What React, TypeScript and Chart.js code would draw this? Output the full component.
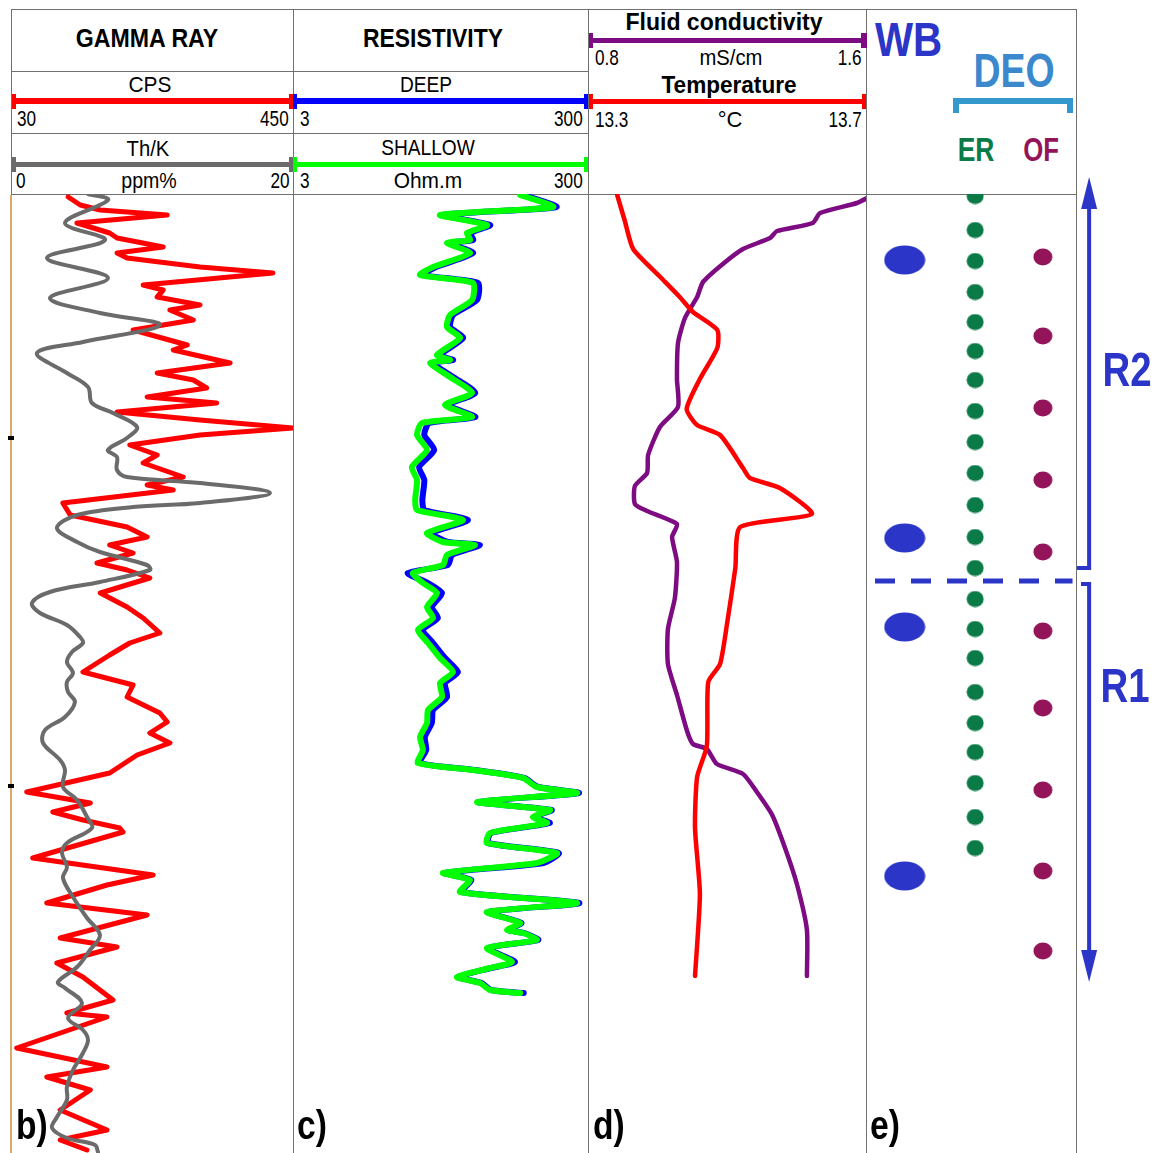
import React, { useEffect, useRef } from 'react';
import { Chart, registerables } from 'chart.js';

Chart.register(...registerables);

const FONT = '"Liberation Sans", Arial, Helvetica, sans-serif';
const GRID = '#707070';
const BLUE = '#2B35C8';

// ---- depth axis (relative depth, top of logged interval = 0) ----
const DEPTH_MIN = 0;
const DEPTH_MAX = 95.9;

// ---- b) gamma ray (CPS) ----
const grDepth = [0.3, 1.1, 1.6, 2.1, 2.9, 3.9, 4.4, 5.3, 5.9, 6.4, 7.3, 7.9, 9.1, 9.6, 10.3, 11.1, 11.6, 12.6, 13.1, 13.6, 15.1, 15.6, 16.9, 17.9, 18.6, 19.4, 20.3, 20.9, 21.8, 22.6, 23.4, 24.1, 25.1, 26.1, 26.9, 28.3, 29.1, 29.6, 30.9, 32.1, 33.3, 34.3, 35.1, 35.9, 36.9, 37.6, 38.4, 39.9, 41.3, 42.4, 43.9, 44.9, 46.1, 47.8, 49.1, 50.3, 51.9, 52.8, 53.9, 54.9, 56.1, 57.9, 59.8, 60.9, 61.8, 62.6, 63.4, 63.8, 66.4, 68.1, 69.1, 70.9, 72.1, 74.4, 75.3, 76.9, 78.3, 80.6, 81.9, 82.3, 85.4, 87.3, 88.3, 89.6, 91.6, 93.6, 94.6, 95.6];
const grCps = [114, 132, 162, 262, 127, 176, 187, 256, 187, 202, 311, 420, 226, 256, 247, 311, 266, 301, 256, 211, 292, 271, 356, 247, 301, 321, 232, 336, 187, 311, 450, 311, 206, 247, 226, 286, 232, 271, 106, 117, 202, 232, 176, 211, 157, 202, 236, 162, 202, 226, 251, 206, 176, 136, 211, 202, 251, 262, 236, 266, 217, 176, 52, 147, 91, 136, 191, 196, 61, 241, 172, 82, 232, 102, 187, 97, 136, 181, 112, 172, 37, 172, 82, 147, 102, 172, 102, 142];

// ---- b) Th/K ratio (ppm%) ----
const thkDepth = [0, 0.6, 2.9, 4.6, 6.4, 8.4, 10.4, 11.9, 13.1, 14.8, 15.9, 17.9, 19.3, 20.9, 21.9, 23.3, 24.4, 25.6, 26.3, 27.6, 28.3, 28.9, 29.9, 30.9, 31.3, 32.1, 33.4, 34.8, 35.8, 37.1, 37.6, 38.8, 39.8, 40.9, 41.9, 43.1, 44.3, 44.9, 45.8, 46.8, 47.9, 48.8, 49.8, 50.8, 52.3, 53.6, 54.9, 56.6, 57.6, 59.3, 60.6, 62.3, 63.4, 64.9, 65.9, 67.3, 68.4, 70.3, 72.4, 74.1, 75.6, 77.3, 78.8, 79.4, 80.9, 82.4, 83.6, 84.6, 85.9, 87.6, 89.3, 90.6, 92.3, 93.4, 94.4, 95.1, 95.8];
const thkVal = [5.41, 6.83, 3.77, 6.62, 2.49, 6.83, 2.70, 6.26, 10.53, 5.05, 1.78, 3.91, 5.41, 5.69, 7.19, 8.90, 8.18, 6.83, 7.47, 7.47, 8.18, 13.38, 18.36, 13.38, 8.61, 4.63, 3.20, 4.63, 6.26, 9.61, 9.82, 6.26, 2.70, 1.42, 1.99, 3.91, 4.84, 5.05, 4.27, 3.91, 4.34, 3.91, 3.99, 4.48, 3.77, 2.35, 2.21, 3.42, 3.77, 3.63, 4.63, 5.34, 5.69, 3.91, 3.56, 3.91, 3.63, 4.34, 5.34, 6.26, 5.55, 4.63, 3.27, 3.77, 4.98, 3.99, 5.05, 5.41, 5.05, 4.34, 3.91, 3.91, 3.20, 2.85, 3.91, 5.91, 6.12];

// ---- c) resistivity, deep and shallow (Ohm.m) ----
const resDepth = [0.1, 1.3, 2.1, 3.1, 3.9, 4.6, 4.9, 5.9, 7.3, 8.1, 8.9, 10.6, 12.1, 13.3, 14.4, 16.1, 16.6, 16.9, 18.3, 19.9, 21.1, 22.3, 22.9, 24.1, 25.6, 27.3, 28.6, 30.6, 31.6, 32.6, 33.9, 34.8, 35.1, 36.1, 37.1, 37.9, 38.9, 39.9, 41.3, 42.4, 43.6, 44.9, 46.4, 47.8, 48.9, 50.3, 51.6, 52.9, 54.3, 55.6, 56.9, 57.6, 58.4, 59.3, 59.9, 60.8, 61.6, 62.3, 62.9, 63.9, 64.9, 65.9, 66.9, 67.9, 68.6, 69.8, 70.9, 71.8, 72.9, 73.6, 73.9, 74.6, 75.4, 76.8, 77.4, 78.3, 78.9, 79.6, 79.9];
const resShallow = [104, 174, 29.8, 62, 45.3, 47.5, 33.2, 47.5, 26.7, 21.8, 49.8, 49.1, 34.8, 33.2, 40.7, 28.4, 34.8, 25.5, 34.8, 49.1, 32.2, 49.1, 22.5, 20.8, 24.3, 19.2, 20.8, 20.2, 20.8, 42.6, 24.3, 31.2, 51.4, 33.2, 31.2, 19.5, 22.8, 28.4, 24.3, 26.7, 21.1, 24.7, 29.8, 36.5, 29.8, 30.7, 24.7, 24.3, 21.8, 22.8, 21.1, 49.8, 109, 135, 253, 53.1, 166, 127, 158, 65, 62, 185, 135, 31.2, 47.5, 40.7, 253, 62, 104, 84.7, 109, 135, 62, 91.6, 65, 38.8, 55.6, 65, 104];
const resDeep = [109, 183, 31.3, 65.1, 47.6, 49.9, 34.9, 49.9, 28, 22.9, 53.8, 53, 36.5, 34.9, 42.7, 29.8, 36.5, 26.8, 36.5, 51.6, 33.8, 51.6, 25.2, 23.3, 27.2, 21.5, 23.3, 22.6, 23.3, 46, 26.2, 33.7, 55.5, 35.9, 33.7, 18, 24.6, 30.7, 26.2, 28.8, 22.8, 26.7, 32.2, 39.4, 32.2, 33.2, 26.7, 26.2, 23.5, 24, 21.8, 51, 111, 138, 260, 54, 170, 130, 165, 66, 63, 190, 150, 32, 48.5, 41.5, 262, 63, 106, 86, 111, 138, 63, 96, 66, 39.5, 57, 66, 110];

// ---- d) fluid conductivity (mS/cm) ----
const condDepth = [0.1, 0.9, 1.9, 2.9, 3.7, 4.4, 5.5, 7.0, 8.8, 10.3, 12.4, 14.9, 18.5, 21.3, 23.3, 26.1, 27.9, 29.2, 31.0, 31.7, 33.0, 34.3, 36.8, 40.4, 43.5, 47.0, 50.1, 53.7, 55.0, 55.5, 57.0, 58.0, 59.8, 62.1, 65.4, 69.0, 73.6, 78.2];
const condVal = [1.62, 1.574, 1.468, 1.447, 1.344, 1.324, 1.246, 1.188, 1.131, 1.114, 1.079, 1.059, 1.056, 1.059, 1.007, 0.973, 0.970, 0.935, 0.935, 0.970, 1.056, 1.042, 1.056, 1.050, 1.030, 1.030, 1.056, 1.085, 1.102, 1.142, 1.171, 1.246, 1.286, 1.330, 1.367, 1.401, 1.430, 1.430];

// ---- d) temperature (°C) ----
const tempDepth = [0.1, 2.7, 5.5, 8.3, 10.3, 11.8, 13.6, 15.4, 18.5, 21.5, 23.1, 24.1, 27.4, 28.4, 29.4, 32.0, 33.3, 37.4, 43.0, 47.0, 48.8, 55.2, 58.3, 63.4, 70.0, 78.2];
const tempVal = [13.342, 13.353, 13.365, 13.404, 13.432, 13.451, 13.486, 13.486, 13.461, 13.442, 13.457, 13.490, 13.523, 13.533, 13.576, 13.622, 13.519, 13.512, 13.500, 13.490, 13.473, 13.471, 13.457, 13.454, 13.461, 13.454];

// ---- e) observations: WB, DEO (ER / OF) ----
const wbDepth = [6.6, 34.4, 43.3, 68.2];
const erDepth = [0.2, 3.6, 6.7, 9.8, 12.8, 15.7, 18.6, 21.7, 24.8, 27.9, 31.1, 34.3, 37.4, 40.5, 43.5, 46.4, 49.8, 52.9, 55.8, 58.9, 62.3, 65.4];
const ofDepth = [6.3, 14.2, 21.4, 28.6, 35.8, 43.7, 51.4, 59.6, 67.7, 75.7];
const columnX = { WB: 1, ER: 2.02, OF: 3 };
const boundaryDepth = 38.7;
const r2Zone = [-1.7, 37.4];
const r1Zone = [39.0, 78.8];
const ARROW_X = 3.67;

const pts = (ys: number[], xs: number[]) => xs.map((x, i) => ({ x, y: ys[i] }));
const atX = (x: number, ys: number[]) => ys.map((y) => ({ x, y }));

const depthAxis = { type: 'linear', min: DEPTH_MIN, max: DEPTH_MAX, reverse: true, display: false };

function options(scales: any, padding: any = 0) {
  return {
    responsive: false,
    maintainAspectRatio: false,
    animation: false,
    events: [],
    layout: { padding, autoPadding: false },
    plugins: { legend: { display: false }, tooltip: { enabled: false } },
    scales,
  };
}

function curve(label: string, data: any[], color: string, width: number, xAxisID: string, extra: any = {}) {
  return {
    label,
    data,
    xAxisID,
    yAxisID: 'y',
    showLine: true,
    borderColor: color,
    backgroundColor: color,
    borderWidth: width,
    pointRadius: 0,
    borderJoinStyle: 'round',
    borderCapStyle: 'round',
    tension: 0,
    ...extra,
  };
}

function ellipseSprite(w: number, h: number, color: string) {
  const c = document.createElement('canvas');
  c.width = w;
  c.height = h;
  const g = c.getContext('2d')!;
  g.fillStyle = color;
  g.beginPath();
  g.ellipse(w / 2, h / 2, w / 2 - 0.5, h / 2 - 0.5, 0, 0, Math.PI * 2);
  g.fill();
  return c;
}

// Zone arrows R2 / R1 to the right of the observation track
const zoneArrows = {
  id: 'zoneArrows',
  afterDatasetsDraw(chart: any) {
    const { ctx, chartArea } = chart;
    const xs = chart.scales.x;
    const ys = chart.scales.y;
    const ax = xs.getPixelForValue(ARROW_X);
    const left = chartArea.right + 1;
    const head = 32;
    const half = 8;
    ctx.save();
    ctx.strokeStyle = BLUE;
    ctx.fillStyle = BLUE;
    ctx.lineWidth = 4;
    const t2 = ys.getPixelForValue(r2Zone[0]);
    const b2 = ys.getPixelForValue(r2Zone[1]);
    ctx.beginPath();
    ctx.moveTo(ax, t2 + head - 2);
    ctx.lineTo(ax, b2);
    ctx.lineTo(left, b2);
    ctx.stroke();
    ctx.beginPath();
    ctx.moveTo(ax, t2);
    ctx.lineTo(ax - half, t2 + head);
    ctx.lineTo(ax + half, t2 + head);
    ctx.closePath();
    ctx.fill();
    const t1 = ys.getPixelForValue(r1Zone[0]);
    const b1 = ys.getPixelForValue(r1Zone[1]);
    ctx.beginPath();
    ctx.moveTo(left + 4, t1);
    ctx.lineTo(ax, t1);
    ctx.lineTo(ax, b1 - head + 2);
    ctx.stroke();
    ctx.beginPath();
    ctx.moveTo(ax, b1);
    ctx.lineTo(ax - half, b1 - head);
    ctx.lineTo(ax + half, b1 - head);
    ctx.closePath();
    ctx.fill();
    ctx.restore();
  },
};

type Align = 'l' | 'c' | 'r';
function Txt(props: { t: string; x: number; y: number; fs: number; a?: Align; b?: boolean; sx?: number; c?: string }) {
  const { t, x, y, fs, a = 'l', b = false, sx = 1, c = '#000' } = props;
  const st: any = {
    position: 'absolute',
    top: y - fs / 2,
    fontSize: fs,
    lineHeight: fs + 'px',
    fontWeight: b ? 'bold' : 'normal',
    color: c,
    whiteSpace: 'nowrap',
    fontFamily: FONT,
  };
  if (a === 'l') {
    st.left = x;
    st.transformOrigin = 'left center';
    st.transform = `scaleX(${sx})`;
  } else if (a === 'r') {
    st.right = 1154 - x;
    st.transformOrigin = 'right center';
    st.transform = `scaleX(${sx})`;
  } else {
    st.left = x;
    st.transformOrigin = 'center center';
    st.transform = `translateX(-50%) scaleX(${sx})`;
  }
  return <div style={st}>{t}</div>;
}

function Rect(props: { x: number; y: number; w: number; h: number; c: string }) {
  return <div style={{ position: 'absolute', left: props.x, top: props.y, width: props.w, height: props.h, background: props.c }} />;
}

function ScaleBar(props: { x1: number; x2: number; y: number; c: string; th?: number; capR?: number }) {
  const { x1, x2, y, c, th = 5, capR = 4 } = props;
  return (
    <>
      <Rect x={x1} y={y - th / 2} w={x2 - x1} h={th} c={c} />
      <Rect x={x1} y={y - 7} w={4} h={15} c={c} />
      <Rect x={x2 - capR} y={y - 7} w={capR} h={15} c={c} />
    </>
  );
}

export default function App() {
  const gRef = useRef<HTMLCanvasElement>(null);
  const rRef = useRef<HTMLCanvasElement>(null);
  const fRef = useRef<HTMLCanvasElement>(null);
  const eRef = useRef<HTMLCanvasElement>(null);

  useEffect(() => {
    const charts: Chart[] = [];

    charts.push(
      new Chart(gRef.current!, {
        type: 'scatter',
        data: {
          datasets: [
            curve('Th/K', pts(thkDepth, thkVal), '#6B6B6B', 4, 'xThk', { tension: 0.35 }),
            curve('Gamma ray', pts(grDepth, grCps), '#FF0000', 5, 'xGr'),
          ],
        },
        options: options({
          xGr: { type: 'linear', min: 30, max: 450, display: false },
          xThk: { type: 'linear', min: 0, max: 20, display: false },
          y: depthAxis,
        }) as any,
      })
    );

    charts.push(
      new Chart(rRef.current!, {
        type: 'scatter',
        data: {
          datasets: [
            curve('Shallow', pts(resDepth, resShallow), '#00FF00', 6, 'xRes', { tension: 0.2 }),
            curve('Deep', pts(resDepth, resDeep), '#0000FF', 6, 'xRes', { tension: 0.2 }),
          ],
        },
        options: options({
          xRes: { type: 'logarithmic', min: 3, max: 300, display: false },
          y: depthAxis,
        }) as any,
      })
    );

    charts.push(
      new Chart(fRef.current!, {
        type: 'scatter',
        data: {
          datasets: [
            curve('Temperature', pts(tempDepth, tempVal), '#FF0000', 4.5, 'xTemp', { tension: 0.2 }),
            curve('Fluid conductivity', pts(condDepth, condVal), '#7D0B82', 4.5, 'xCond', { tension: 0.2 }),
          ],
        },
        options: options({
          xCond: { type: 'linear', min: 0.8, max: 1.6, display: false },
          xTemp: { type: 'linear', min: 13.3, max: 13.7, display: false },
          y: depthAxis,
        }) as any,
      })
    );

    const dot = (data: any[], sprite: HTMLCanvasElement, label: string) => ({
      label,
      data,
      xAxisID: 'x',
      yAxisID: 'y',
      pointStyle: sprite,
      pointRadius: 10,
      showLine: false,
    });

    charts.push(
      new Chart(eRef.current!, {
        type: 'scatter',
        data: {
          datasets: [
            {
              label: 'R2/R1 boundary',
              data: [
                { x: 0.57, y: boundaryDepth },
                { x: 3.43, y: boundaryDepth },
              ],
              xAxisID: 'x',
              yAxisID: 'y',
              showLine: true,
              borderColor: BLUE,
              borderWidth: 5,
              borderDash: [20, 16],
              pointRadius: 0,
            },
            dot(atX(columnX.WB, wbDepth), ellipseSprite(42, 30, BLUE), 'WB'),
            dot(atX(columnX.ER, erDepth), ellipseSprite(18, 17, '#0A7A47'), 'ER'),
            dot(atX(columnX.OF, ofDepth), ellipseSprite(20, 18, '#931459'), 'OF'),
          ],
        },
        options: options(
          {
            x: { type: 'linear', min: 0.44, max: 3.48, display: false },
            y: depthAxis,
          },
          { top: 24, right: 78, left: 0, bottom: 0 }
        ) as any,
        plugins: [zoneArrows],
      })
    );

    return () => charts.forEach((c) => c.destroy());
  }, []);

  const num = 0.78;
  return (
    <div style={{ position: 'absolute', left: 0, top: 0, width: 1154, height: 1153, background: '#fff', overflow: 'hidden', fontFamily: FONT }}>
      {/* frame and track grid */}
      <Rect x={11} y={9} w={1066} h={1} c={GRID} />
      <Rect x={11} y={9} w={1} h={185} c={GRID} />
      <Rect x={293} y={9} w={1} h={1144} c={GRID} />
      <Rect x={588} y={9} w={1} h={1144} c={GRID} />
      <Rect x={866} y={9} w={1} h={1144} c={GRID} />
      <Rect x={1076} y={9} w={1} h={1144} c={GRID} />
      <Rect x={11} y={71} w={577} h={1} c={GRID} />
      <Rect x={11} y={133} w={577} h={1} c={GRID} />
      <Rect x={11} y={194} w={1066} h={1} c={GRID} />
      <Rect x={10} y={195} w={2} h={958} c="#DDA868" />
      <Rect x={8} y={436} w={6} h={4} c="#000" />
      <Rect x={8} y={784} w={6} h={4} c="#000" />

      {/* b) gamma ray header */}
      <Txt t="GAMMA RAY" x={147} y={38} fs={26} a="c" b sx={0.89} />
      <Txt t="CPS" x={150} y={85} fs={22} a="c" sx={0.95} />
      <ScaleBar x1={12} x2={293} y={101} c="#FF0000" th={6} />
      <Txt t="30" x={17} y={118.5} fs={22} sx={num} />
      <Txt t="450" x={289} y={118.5} fs={22} a="r" sx={num} />
      <Txt t="Th/K" x={148} y={149} fs={22} a="c" sx={0.92} />
      <ScaleBar x1={12} x2={293} y={164} c="#6B6B6B" th={5} />
      <Txt t="0" x={16} y={180.5} fs={22} sx={num} />
      <Txt t="ppm%" x={149} y={180.5} fs={22} a="c" sx={0.89} />
      <Txt t="20" x={289} y={180.5} fs={22} a="r" sx={num} />

      {/* c) resistivity header */}
      <Txt t="RESISTIVITY" x={433} y={38} fs={26} a="c" b sx={0.88} />
      <Txt t="DEEP" x={426} y={85} fs={22} a="c" sx={0.87} />
      <ScaleBar x1={293} x2={588} y={101} c="#0000FF" th={6} />
      <Txt t="3" x={300} y={118.5} fs={22} sx={num} />
      <Txt t="300" x={583} y={118.5} fs={22} a="r" sx={num} />
      <Txt t="SHALLOW" x={428} y={148} fs={22} a="c" sx={0.87} />
      <ScaleBar x1={293} x2={588} y={164} c="#00FF00" th={5} />
      <Txt t="3" x={300} y={180.5} fs={22} sx={num} />
      <Txt t="Ohm.m" x={428} y={180.5} fs={22} a="c" sx={0.95} />
      <Txt t="300" x={583} y={180.5} fs={22} a="r" sx={num} />

      {/* d) fluid conductivity / temperature header */}
      <Txt t="Fluid conductivity" x={724} y={22} fs={24} a="c" b sx={0.96} />
      <ScaleBar x1={589} x2={867} y={40} c="#7D0B82" th={5} capR={6} />
      <Txt t="0.8" x={595} y={57.5} fs={22} sx={num} />
      <Txt t="mS/cm" x={731} y={57.5} fs={22} a="c" sx={0.92} />
      <Txt t="1.6" x={862} y={57.5} fs={22} a="r" sx={num} />
      <Txt t="Temperature" x={729} y={84.5} fs={24} a="c" b sx={0.94} />
      <ScaleBar x1={589} x2={866} y={101} c="#FF0000" th={5} />
      <Txt t="13.3" x={595} y={119.5} fs={22} sx={num} />
      <Txt t="°C" x={730} y={119.5} fs={22} a="c" />
      <Txt t="13.7" x={862} y={119.5} fs={22} a="r" sx={num} />

      {/* e) observations header */}
      <Txt t="WB" x={875} y={40} fs={48} b sx={0.84} c={BLUE} />
      <Txt t="DEO" x={1014} y={71} fs={48} a="c" b sx={0.78} c="#3B88CD" />
      <Rect x={953} y={98} w={120} h={6} c="#3399CC" />
      <Rect x={953} y={98} w={6} h={15} c="#3399CC" />
      <Rect x={1067} y={98} w={6} h={15} c="#3399CC" />
      <Txt t="ER" x={976} y={149} fs={33} a="c" b sx={0.8} c="#0A7A47" />
      <Txt t="OF" x={1041} y={149} fs={33} a="c" b sx={0.78} c="#931459" />

      {/* log tracks */}
      <canvas ref={gRef} width={281} height={959} style={{ position: 'absolute', left: 12, top: 194 }} />
      <canvas ref={rRef} width={295} height={959} style={{ position: 'absolute', left: 293, top: 194 }} />
      <canvas ref={fRef} width={278} height={959} style={{ position: 'absolute', left: 588, top: 194 }} />
      <canvas ref={eRef} width={288} height={983} style={{ position: 'absolute', left: 866, top: 170 }} />

      {/* zone labels */}
      <Txt t="R2" x={1127} y={370} fs={48} a="c" b sx={0.8} c={BLUE} />
      <Txt t="R1" x={1125} y={686} fs={48} a="c" b sx={0.8} c={BLUE} />

      {/* panel letters */}
      <Txt t="b)" x={16} y={1125} fs={41} b sx={0.82} />
      <Txt t="c)" x={297} y={1125} fs={41} b sx={0.82} />
      <Txt t="d)" x={593} y={1125} fs={41} b sx={0.82} />
      <Txt t="e)" x={870} y={1125} fs={41} b sx={0.82} />
    </div>
  );
}
